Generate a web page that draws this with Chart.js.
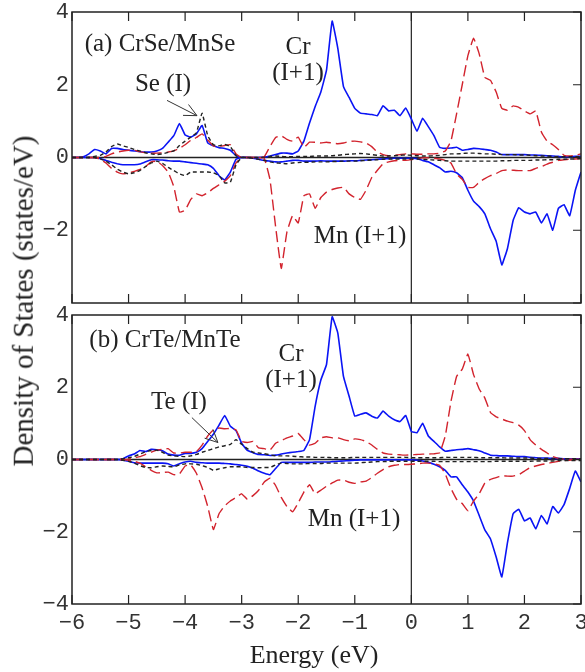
<!DOCTYPE html>
<html>
<head>
<meta charset="utf-8">
<script src="https://cdn.jsdelivr.net/npm/chart.js@4.4.1/dist/chart.umd.min.js"></script>
<style>
    body { margin: 0; background: #fff; }
    #wrap { position: relative; width: 585px; height: 672px; overflow: hidden; }
    canvas { position: absolute; left: 0; }
    .lbl {
        position: absolute;
        font-family: 'Liberation Serif', 'Times New Roman', serif;
        font-size: 25px;
        color: #222;
        white-space: nowrap;
        line-height: 1.05;
        text-align: center;
        transform: translate(-50%, -50%);
    }
    .ytitle { font-size: 29px; transform: translate(-50%, -50%) rotate(-90deg); }
    .xtitle { font-size: 26px; }
</style>
</head>
<body>
<div id="wrap">
    <canvas id="topChart" width="585" height="310" style="top:0"></canvas>
    <canvas id="bottomChart" width="585" height="372" style="top:300px"></canvas>

    <div class="lbl" style="left:160px; top:43px">(a) CrSe/MnSe</div>
    <div class="lbl" style="left:163px; top:83px">Se (I)</div>
    <div class="lbl" style="left:298px; top:59px">Cr<br>(I+1)</div>
    <div class="lbl" style="left:360px; top:235px">Mn (I+1)</div>

    <div class="lbl" style="left:165px; top:339px">(b) CrTe/MnTe</div>
    <div class="lbl" style="left:179px; top:401px">Te (I)</div>
    <div class="lbl" style="left:291px; top:366px">Cr<br>(I+1)</div>
    <div class="lbl" style="left:354px; top:518px">Mn (I+1)</div>

    <div class="lbl xtitle" style="left:314px; top:655px">Energy (eV)</div>
    <div class="lbl ytitle" style="left:23px; top:301px">Density of States (states/eV)</div>
</div>

<script>
// エネルギー軸 (eV)
const energies = [
    -6.0, -5.9, -5.8, -5.7, -5.6, -5.5, -5.4, -5.3, -5.2, -5.1,
    -5.0, -4.9, -4.8, -4.7, -4.6, -4.5, -4.4, -4.3, -4.2, -4.1,
    -4.0, -3.9, -3.8, -3.7, -3.6, -3.5, -3.4, -3.3, -3.2, -3.1,
    -3.0, -2.9, -2.8, -2.7, -2.6, -2.5, -2.4, -2.3, -2.2, -2.1,
    -2.0, -1.9, -1.8, -1.7, -1.6, -1.5, -1.4, -1.3, -1.2, -1.1,
    -1.0, -0.9, -0.8, -0.7, -0.6, -0.5, -0.4, -0.3, -0.2, -0.1,
    0.0, 0.1, 0.2, 0.3, 0.4, 0.5, 0.6, 0.7, 0.8, 0.9,
    1.0, 1.1, 1.2, 1.3, 1.4, 1.5, 1.6, 1.7, 1.8, 1.9,
    2.0, 2.1, 2.2, 2.3, 2.4, 2.5, 2.6, 2.7, 2.8, 2.9,
    3.0
];

const xTicks = [-6, -5, -4, -3, -2, -1, 0, 1, 2, 3];
const yTicks = [-4, -2, 0, 2, 4];

// (a) CrSe/MnSe
const crSeUp = [
    0, 0, 0.02, 0.1, 0.22, 0.18, 0.1, 0.25, 0.25, 0.22,
    0.2, 0.18, 0.16, 0.15, 0.15, 0.18, 0.25, 0.42, 0.6, 0.93,
    0.62, 0.56, 0.65, 0.88, 0.4, 0.32, 0.27, 0.25, 0.2, 0.05,
    0, 0, 0, 0, 0.01, 0.04, 0.08, 0.12, 0.12, 0.1,
    0.18, 0.45, 0.95, 1.4, 1.8, 2.4, 3.75, 3.0, 1.95, 1.65,
    1.35, 1.22, 1.2, 1.18, 1.15, 1.42, 1.28, 1.3, 1.15, 1.36,
    1.06, 0.72, 1.08, 0.85, 0.6, 0.28, 0.25, 0.26, 0.28, 0.2,
    0.22, 0.25, 0.24, 0.22, 0.2, 0.15, 0.08, 0.08, 0.08, 0.08,
    0.08, 0.07, 0.07, 0.06, 0.05, 0.04, 0.03, 0.02, 0.02, 0.03,
    0.03
];
const crSeDown = [
    0, 0, 0, 0, 0, -0.03, -0.08, -0.13, -0.17, -0.2,
    -0.2, -0.2, -0.18, -0.12, -0.06, -0.06, -0.07, -0.09, -0.1, -0.1,
    -0.12, -0.14, -0.16, -0.18, -0.2, -0.3, -0.5, -0.62, -0.4, -0.05,
    0, 0, -0.02, -0.05, -0.08, -0.1, -0.12, -0.12, -0.1, -0.08,
    -0.08, -0.1, -0.1, -0.1, -0.09, -0.1, -0.1, -0.1, -0.1, -0.09,
    -0.09, -0.08, -0.07, -0.06, -0.05, -0.04, -0.03, -0.02, -0.02, -0.02,
    -0.02, -0.03, -0.08, -0.12, -0.2, -0.28, -0.4, -0.38, -0.42, -0.55,
    -0.9, -1.2, -1.35, -1.55, -1.96, -2.3, -2.95, -2.5, -1.73, -1.38,
    -1.5, -1.55, -1.5, -1.8, -1.55, -2.0, -1.4, -1.3, -1.6, -0.9,
    -0.4
];
const mnSeUp = [
    0, 0, 0, 0, 0, 0, 0.03, 0.1, 0.15, 0.18,
    0.2, 0.2, 0.16, 0.13, 0.12, 0.12, 0.13, 0.15, 0.18, 0.25,
    0.35, 0.47, 0.55, 0.65, 0.48, 0.32, 0.3, 0.33, 0.35, 0.1,
    0, 0, 0, 0, 0.02, 0.3, 0.55, 0.6, 0.5, 0.45,
    0.56, 0.28, 0.42, 0.42, 0.4, 0.42, 0.4, 0.38, 0.4, 0.44,
    0.45, 0.43, 0.4, 0.3, 0.15, 0.08, 0.05, 0.06, 0.08, 0.1,
    0.1, 0.09, 0.09, 0.1, 0.1, 0.12, 0.18, 0.45, 1.2, 2.0,
    2.8, 3.28, 2.85, 2.2, 2.12, 1.8, 1.35, 1.3, 1.42, 1.38,
    1.28, 1.2, 1.28, 0.7, 0.45, 0.35, 0.22, 0.06, 0.04, 0.06,
    0.1
];
const mnSeDown = [
    0, 0, 0, 0, 0, -0.05, -0.15, -0.3, -0.4, -0.45,
    -0.43, -0.38, -0.33, -0.25, -0.12, -0.1, -0.22, -0.4, -0.8, -1.5,
    -1.45, -1.15, -1.0, -1.05, -0.97, -0.85, -0.75, -0.65, -0.5, -0.15,
    0, 0, 0, 0, -0.02, -0.6, -1.9, -3.05, -2.05, -1.6,
    -1.8, -1.05, -1.0, -1.4, -1.1, -0.95, -0.88, -0.84, -0.82, -1.0,
    -1.1, -1.15, -0.9, -0.55, -0.35, -0.17, -0.12, -0.09, -0.08, -0.08,
    -0.06, -0.03, -0.01, -0.01, -0.02, -0.04, -0.08, -0.15, -0.45, -0.6,
    -0.82, -0.82, -0.68, -0.58, -0.5, -0.44, -0.36, -0.34, -0.35, -0.36,
    -0.36, -0.36, -0.3, -0.25, -0.18, -0.13, -0.08, -0.06, -0.05, -0.04,
    -0.03
];
const seUp = [
    0, 0, 0, 0, 0.03, 0.06, 0.15, 0.3, 0.37, 0.32,
    0.28, 0.22, 0.18, 0.13, 0.1, 0.08, 0.1, 0.14, 0.18, 0.33,
    0.45, 0.56, 0.68, 1.22, 0.6, 0.35, 0.32, 0.36, 0.3, 0.05,
    0, 0, 0, 0, 0.01, 0.03, 0.04, 0.03, 0.02, 0.02,
    0.03, 0.03, 0.03, 0.04, 0.04, 0.04, 0.05, 0.06, 0.08, 0.09,
    0.1, 0.11, 0.1, 0.08, 0.06, 0.04, 0.04, 0.05, 0.06, 0.07,
    0.06, 0.05, 0.04, 0.04, 0.05, 0.06, 0.08, 0.1, 0.1, 0.11,
    0.12, 0.12, 0.11, 0.1, 0.1, 0.09, 0.08, 0.08, 0.08, 0.07,
    0.07, 0.06, 0.05, 0.04, 0.04, 0.03, 0.02, 0.02, 0.02, 0.02,
    0.02
];
const seDown = [
    0, 0, 0, 0, 0, -0.04, -0.1, -0.2, -0.32, -0.4,
    -0.45, -0.42, -0.36, -0.25, -0.15, -0.1, -0.16, -0.27, -0.36, -0.45,
    -0.5, -0.4, -0.4, -0.4, -0.4, -0.42, -0.5, -0.7, -0.68, -0.2,
    0, 0, -0.02, -0.05, -0.08, -0.12, -0.15, -0.16, -0.17, -0.15,
    -0.14, -0.13, -0.13, -0.12, -0.12, -0.12, -0.11, -0.11, -0.1, -0.1,
    -0.1, -0.09, -0.08, -0.07, -0.06, -0.05, -0.04, -0.04, -0.04, -0.04,
    -0.04, -0.04, -0.05, -0.06, -0.07, -0.08, -0.09, -0.1, -0.1, -0.1,
    -0.1, -0.1, -0.1, -0.1, -0.1, -0.1, -0.09, -0.09, -0.08, -0.08,
    -0.08, -0.08, -0.07, -0.07, -0.06, -0.06, -0.05, -0.05, -0.04, -0.04,
    -0.03
];

// (b) CrTe/MnTe
const crTeUp = [
    0, 0, 0, 0, 0, 0, 0, 0, 0, 0.02,
    0.1, 0.15, 0.25, 0.22, 0.28, 0.27, 0.24, 0.15, 0.12, 0.12,
    0.17, 0.17, 0.2, 0.3, 0.5, 0.7, 0.95, 1.22, 0.92, 0.8,
    0.45, 0.25, 0.19, 0.14, 0.13, 0.11, 0.12, 0.15, 0.18, 0.2,
    0.22, 0.25, 0.55, 1.48, 2.2, 2.63, 3.95, 3.5, 2.3, 1.75,
    1.2, 1.25, 1.29, 1.2, 1.15, 1.34, 1.2, 1.1, 1.05, 1.22,
    0.78, 0.74, 1.0, 0.65, 0.5, 0.35, 0.23, 0.25, 0.27, 0.28,
    0.3, 0.27, 0.24, 0.18, 0.12, 0.11, 0.1, 0.1, 0.09, 0.08,
    0.08, 0.06, 0.05, 0.04, 0.04, 0.03, 0.03, 0.02, 0.02, 0.02,
    0.02
];
const crTeDown = [
    0, 0, 0, 0, 0, 0, 0, 0, 0, -0.02,
    -0.05, -0.09, -0.1, -0.1, -0.1, -0.1, -0.1, -0.12, -0.18, -0.12,
    -0.07, -0.05, -0.08, -0.09, -0.1, -0.1, -0.1, -0.11, -0.12, -0.14,
    -0.16, -0.19, -0.24, -0.32, -0.38, -0.42, -0.25, -0.08, -0.08, -0.08,
    -0.08, -0.08, -0.08, -0.07, -0.07, -0.07, -0.06, -0.05, -0.04, -0.03,
    -0.02, -0.01, -0.01, -0.01, -0.01, -0.01, -0.01, -0.01, -0.01, -0.01,
    -0.01, -0.02, -0.04, -0.08, -0.13, -0.2, -0.3, -0.48, -0.48, -0.7,
    -0.9, -1.15, -1.55, -1.95, -2.2, -2.7, -3.25, -2.3, -1.5, -1.38,
    -1.7, -1.62, -1.92, -1.55, -1.78, -1.3, -1.48, -1.25, -0.8, -0.32,
    -0.62
];
const mnTeUp = [
    0, 0, 0, 0, 0, 0, 0, 0, 0, 0,
    0.01, 0.04, 0.08, 0.14, 0.2, 0.26, 0.28, 0.3, 0.18, 0.18,
    0.2, 0.2, 0.22, 0.4, 0.65, 0.82, 0.87, 0.85, 0.86, 0.82,
    0.5, 0.47, 0.5, 0.32, 0.3, 0.26, 0.45, 0.52, 0.6, 0.65,
    0.72, 0.55, 0.4, 0.45, 0.6, 0.63, 0.6, 0.6, 0.55, 0.52,
    0.57, 0.55, 0.5, 0.4, 0.28, 0.18, 0.15, 0.14, 0.13, 0.12,
    0.13, 0.14, 0.15, 0.15, 0.16, 0.18, 0.65, 1.6, 2.3, 2.5,
    2.92, 2.35, 1.95, 1.7, 1.3, 1.18, 1.12, 1.06, 1.02, 0.95,
    0.8, 0.55, 0.4, 0.28, 0.18, 0.08, 0.03, 0.01, 0.01, 0.01,
    0.01
];
const mnTeDown = [
    0, 0, 0, 0, 0, 0, 0, 0, 0, 0,
    -0.02, -0.05, -0.1, -0.2, -0.3, -0.37, -0.36, -0.35, -0.42, -0.4,
    -0.18, -0.15, -0.38, -0.78, -1.3, -1.94, -1.5, -1.28, -1.15, -1.05,
    -0.95, -1.1, -1.0, -0.85, -0.62, -0.52, -0.72, -1.05, -1.3, -1.45,
    -1.2, -0.9, -0.7, -0.95, -0.85, -0.74, -0.65, -0.57, -0.57, -0.63,
    -0.66, -0.62, -0.6, -0.5, -0.38, -0.28, -0.2, -0.16, -0.14, -0.14,
    -0.13, -0.12, -0.1, -0.1, -0.12, -0.16, -0.4, -0.8, -1.1, -1.22,
    -1.42, -1.15, -0.95, -0.65, -0.55, -0.5, -0.45, -0.46, -0.46, -0.42,
    -0.32, -0.22, -0.18, -0.14, -0.11, -0.08, -0.05, -0.03, -0.02, -0.01,
    -0.01
];
const teUp = [
    0, 0, 0, 0, 0, 0, 0, 0, 0, 0.02,
    0.05, 0.08, 0.15, 0.22, 0.25, 0.26, 0.2, 0.12, 0.1, 0.09,
    0.08, 0.1, 0.14, 0.2, 0.25, 0.3, 0.35, 0.38, 0.42, 0.55,
    0.42, 0.3, 0.2, 0.18, 0.16, 0.13, 0.1, 0.1, 0.1, 0.09,
    0.08, 0.07, 0.07, 0.06, 0.06, 0.06, 0.05, 0.05, 0.05, 0.05,
    0.06, 0.06, 0.06, 0.06, 0.06, 0.06, 0.06, 0.06, 0.06, 0.06,
    0.05, 0.05, 0.05, 0.05, 0.05, 0.05, 0.06, 0.06, 0.06, 0.06,
    0.06, 0.06, 0.05, 0.05, 0.05, 0.05, 0.05, 0.04, 0.04, 0.04,
    0.04, 0.04, 0.03, 0.03, 0.03, 0.03, 0.02, 0.02, 0.02, 0.02,
    0.02
];
const teDown = [
    0, 0, 0, 0, 0, 0, 0, 0, 0, -0.02,
    -0.05, -0.1, -0.17, -0.22, -0.23, -0.2, -0.18, -0.19, -0.2, -0.15,
    -0.12, -0.12, -0.13, -0.17, -0.22, -0.3, -0.26, -0.23, -0.2, -0.2,
    -0.2, -0.22, -0.22, -0.23, -0.22, -0.22, -0.15, -0.1, -0.11, -0.12,
    -0.12, -0.12, -0.11, -0.11, -0.11, -0.1, -0.1, -0.1, -0.1, -0.1,
    -0.1, -0.09, -0.08, -0.07, -0.06, -0.06, -0.05, -0.05, -0.05, -0.05,
    -0.05, -0.05, -0.05, -0.05, -0.05, -0.06, -0.06, -0.06, -0.06, -0.06,
    -0.06, -0.06, -0.06, -0.06, -0.06, -0.05, -0.05, -0.05, -0.05, -0.05,
    -0.05, -0.05, -0.04, -0.04, -0.04, -0.04, -0.03, -0.03, -0.03, -0.03,
    -0.03
];

// 矢印 (始点 → 先端, データ座標)
const arrowSe = [[-4.32, 1.57], [-3.79, 1.15]];
const arrowTe = [[-3.88, 1.16], [-3.42, 0.47]];

const CR_COLOR = '#0a14f5';
const MN_COLOR = '#d2232d';
const X_COLOR = '#222222';

function makeSet(values, color, dash, width) {
    return {
        data: values.map((v, i) => ({ x: energies[i], y: v })),
        borderColor: color,
        borderDash: dash,
        borderWidth: width,
        pointRadius: 0,
        fill: false,
        tension: 0.1
    };
}

function fmt(v) {
    return v < 0 ? '\u2212' + Math.abs(v) : String(v);
}

// 枠・ゼロ線・内向き目盛・矢印
const framePlugin = {
    id: 'frame',
    beforeDatasetsDraw(chart) {
        const { ctx, chartArea: a, scales: { x, y } } = chart;
        ctx.save();
        ctx.strokeStyle = '#222';
        ctx.lineWidth = 1.5;
        const y0 = y.getPixelForValue(0);
        ctx.beginPath();
        ctx.moveTo(a.left, y0);
        ctx.lineTo(a.right, y0);
        ctx.stroke();
        ctx.lineWidth = 1.2;
        const x0 = x.getPixelForValue(0);
        ctx.beginPath();
        ctx.moveTo(x0, a.top);
        ctx.lineTo(x0, a.bottom);
        ctx.stroke();
        ctx.restore();
    },
    afterDatasetsDraw(chart, args, opts) {
        const { ctx, chartArea: a, scales: { x, y } } = chart;
        ctx.save();
        ctx.strokeStyle = '#222';
        ctx.lineWidth = 1.5;
        ctx.strokeRect(a.left, a.top, a.right - a.left, a.bottom - a.top);
        ctx.lineWidth = 1.2;
        ctx.beginPath();
        xTicks.forEach(v => {
            const px = x.getPixelForValue(v);
            ctx.moveTo(px, a.bottom);
            ctx.lineTo(px, a.bottom - 9);
            ctx.moveTo(px, a.top);
            ctx.lineTo(px, a.top + 9);
        });
        yTicks.forEach(v => {
            const py = y.getPixelForValue(v);
            ctx.moveTo(a.right, py);
            ctx.lineTo(a.right - 8, py);
        });
        ctx.stroke();

        if (opts.arrow) {
            const [p0, p1] = opts.arrow;
            const sx = x.getPixelForValue(p0[0]), sy = y.getPixelForValue(p0[1]);
            const tx = x.getPixelForValue(p1[0]), ty = y.getPixelForValue(p1[1]);
            const ang = Math.atan2(sy - ty, sx - tx);
            ctx.lineWidth = 1;
            ctx.strokeStyle = '#333';
            ctx.beginPath();
            ctx.moveTo(sx, sy);
            ctx.lineTo(tx, ty);
            [-0.45, 0.45].forEach(d => {
                ctx.moveTo(tx, ty);
                ctx.lineTo(tx + 14 * Math.cos(ang + d), ty + 14 * Math.sin(ang + d));
            });
            ctx.stroke();
        }
        ctx.restore();
    }
};

function makeChart(id, sets, arrow, showX, padding, xHeight, skipBottom) {
    return new Chart(document.getElementById(id).getContext('2d'), {
        type: 'line',
        data: { datasets: sets },
        options: {
            responsive: false,
            animation: false,
            layout: { padding: padding },
            plugins: {
                legend: { display: false },
                tooltip: { enabled: false },
                frame: { arrow: arrow }
            },
            scales: {
                x: {
                    type: 'linear',
                    min: -6,
                    max: 3,
                    afterBuildTicks: s => { s.ticks = xTicks.map(v => ({ value: v })); },
                    afterFit: s => {
                        s.height = xHeight;
                        s.paddingLeft = 0;
                        s.paddingRight = 0;
                    },
                    grid: { display: false, drawTicks: false },
                    border: { display: false },
                    ticks: {
                        display: showX,
                        autoSkip: false,
                        maxRotation: 0,
                        padding: 6,
                        color: '#333',
                        font: { family: 'Liberation Mono', size: 22 },
                        callback: v => fmt(v)
                    }
                },
                y: {
                    type: 'linear',
                    min: -4,
                    max: 4,
                    afterBuildTicks: s => { s.ticks = yTicks.map(v => ({ value: v })); },
                    afterFit: s => {
                        s.width = 72;
                        s.paddingTop = 0;
                        s.paddingBottom = 0;
                    },
                    grid: { display: false, drawTicks: false },
                    border: { display: false },
                    ticks: {
                        padding: 3,
                        color: '#333',
                        font: { family: 'Liberation Mono', size: 22 },
                        callback: v => (skipBottom && v === -4) ? '' : fmt(v)
                    }
                }
            }
        },
        plugins: [framePlugin]
    });
}

makeChart('topChart', [
    makeSet(seUp, X_COLOR, [4, 3], 1.4),
    makeSet(seDown, X_COLOR, [4, 3], 1.4),
    makeSet(mnSeUp, MN_COLOR, [11, 5], 1.4),
    makeSet(mnSeDown, MN_COLOR, [11, 5], 1.4),
    makeSet(crSeUp, CR_COLOR, [], 1.6),
    makeSet(crSeDown, CR_COLOR, [], 1.6)
], arrowSe, false, { top: 12, right: 4, bottom: 7, left: 0 }, 0, true);

makeChart('bottomChart', [
    makeSet(teUp, X_COLOR, [4, 3], 1.4),
    makeSet(teDown, X_COLOR, [4, 3], 1.4),
    makeSet(mnTeUp, MN_COLOR, [11, 5], 1.4),
    makeSet(mnTeDown, MN_COLOR, [11, 5], 1.4),
    makeSet(crTeUp, CR_COLOR, [], 1.6),
    makeSet(crTeDown, CR_COLOR, [], 1.6)
], arrowTe, true, { top: 15, right: 4, bottom: 0, left: 0 }, 68, false);
</script>
</body>
</html>
